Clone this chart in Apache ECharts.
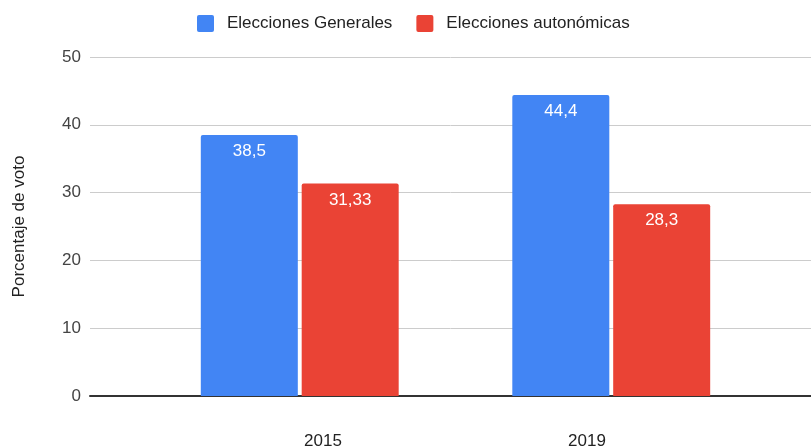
<!DOCTYPE html>
<html>
<head>
<meta charset="utf-8">
<script src="https://cdn.jsdelivr.net/npm/echarts@6/dist/echarts.min.js"></script>
<style>html,body{margin:0;padding:0;background:#fff}#c{width:811px;height:447px}</style>
</head>
<body>
<div id="c"></div>
<script>
const categories = ['2015', '2019'];
const generales = [38.5, 44.4];
const autonomicas = [31.33, 28.3];
const seriesNames = ['Elecciones Generales', 'Elecciones autonómicas'];

const FONT = '"Liberation Sans", Arial, sans-serif';
const chart = echarts.init(document.getElementById('c'));
const fmt = p => String(p.value).replace('.', ',');
const labelCfg = {
  show: true, position: 'insideTop', distance: 8, color: '#fff',
  fontFamily: FONT, fontSize: 17, formatter: fmt
};
chart.setOption({
  animation: false,
  color: ['#4285F4', '#EA4335'],
  legend: {
    left: 192, top: 10, itemWidth: 17, itemHeight: 17, itemGap: 24,
    icon: 'path://M2,0 L15,0 Q17,0 17,2 L17,15 Q17,17 15,17 L2,17 Q0,17 0,15 L0,2 Q0,0 2,0 Z',
    textStyle: { fontFamily: FONT, fontSize: 17, color: '#222', padding: [0, 0, 0, 8] },
    data: seriesNames
  },
  grid: [
    { left: 144, right: 44, top: 57, bottom: 51, outerBoundsMode: 'none', containLabel: false },
    { left: 90, right: 0, top: 57, bottom: 51, outerBoundsMode: 'none', containLabel: false },
    { left: 191, right: 92, top: 57, bottom: 51, outerBoundsMode: 'none', containLabel: false }
  ],
  xAxis: [
    { type: 'category', gridIndex: 0, data: categories,
      axisLine: { show: false }, axisTick: { show: false }, axisLabel: { show: false } },
    { type: 'value', gridIndex: 1, min: 0, max: 1,
      axisLabel: { show: false }, axisTick: { show: false }, splitLine: { show: false },
      axisLine: { show: true, lineStyle: { color: '#333', width: 2 } } },
    { type: 'category', gridIndex: 2, data: categories,
      axisLine: { show: false }, axisTick: { show: false },
      axisLabel: { margin: 37, fontFamily: FONT, fontSize: 17, color: '#222' } }
  ],
  yAxis: [
    { type: 'value', gridIndex: 0, min: 0, max: 50, interval: 10, show: false, splitLine: { show: false } },
    { type: 'value', gridIndex: 1, min: 0, max: 50, interval: 10,
      name: 'Porcentaje de voto', nameLocation: 'middle', nameGap: 62,
      nameTextStyle: { fontFamily: FONT, fontSize: 17, color: '#222' },
      axisLine: { show: false }, axisTick: { show: false },
      axisLabel: { margin: 9, fontFamily: FONT, fontSize: 17, color: '#444' },
      splitLine: { lineStyle: { color: '#ccc', width: 1 } } },
    { type: 'value', gridIndex: 2, min: 0, max: 50, show: false, splitLine: { show: false } }
  ],
  series: [
    { name: seriesNames[0], type: 'bar', xAxisIndex: 0, yAxisIndex: 0, data: generales,
      barWidth: 97, barGap: '4%', itemStyle: { borderRadius: [2, 2, 0, 0] }, label: labelCfg, z: 3 },
    { name: seriesNames[1], type: 'bar', xAxisIndex: 0, yAxisIndex: 0, data: autonomicas,
      barWidth: 97, barGap: '4%', itemStyle: { borderRadius: [2, 2, 0, 0] }, label: labelCfg, z: 3 }
  ]
});
</script>
</body>
</html>
